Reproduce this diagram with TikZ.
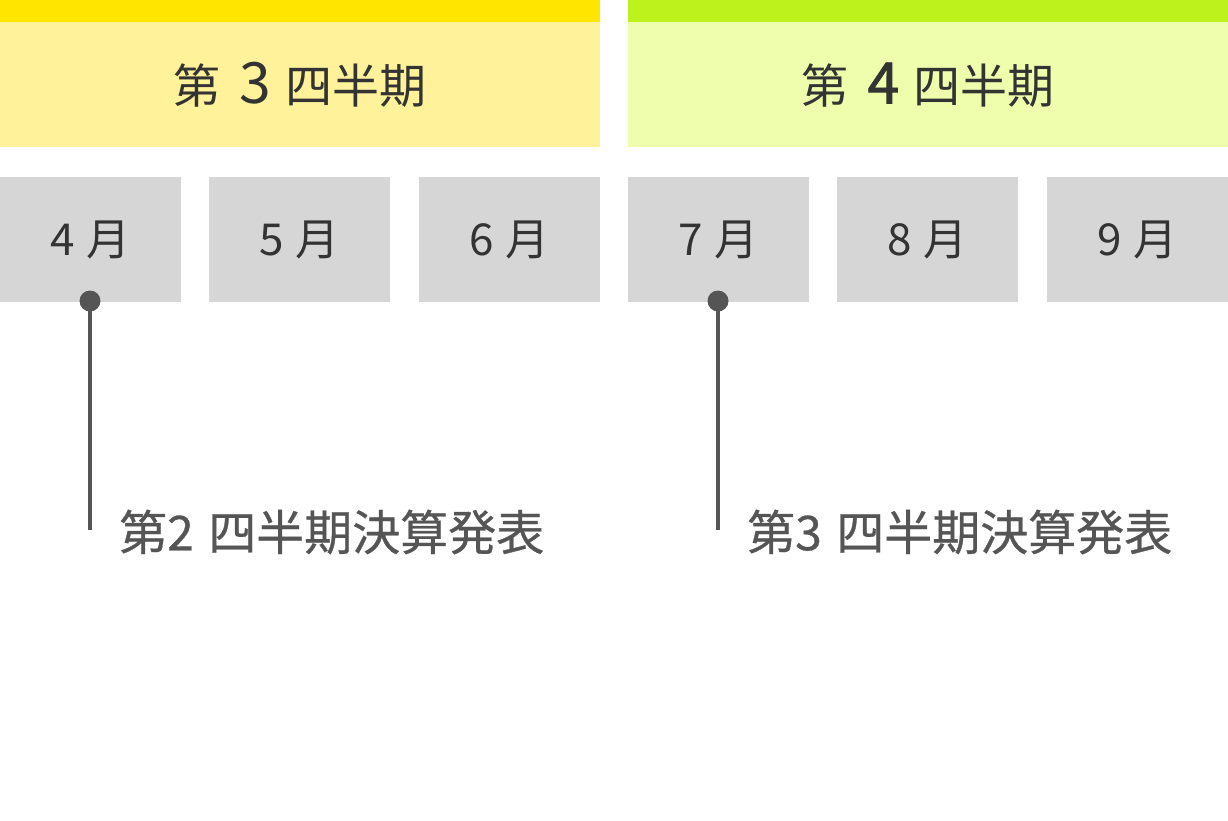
\documentclass[tikz,border=0pt]{standalone}
\usepackage{fontspec}
\setmainfont{Noto Sans CJK JP}
\newfontfamily\jpbold{Noto Sans CJK JP}[FakeBold=1.5]
\newfontfamily\jpmed{Noto Sans CJK JP}[FakeBold=0.6]
\definecolor{qyellowbar}{HTML}{FFE500}
\definecolor{qyellowlight}{HTML}{FFF29A}
\definecolor{qgreenbar}{HTML}{BEF21C}
\definecolor{qgreenlight}{HTML}{EEFEAC}
\definecolor{mbox}{HTML}{D6D6D6}
\definecolor{htext}{HTML}{333333}
\definecolor{ltext}{HTML}{555555}
\tikzset{
  hdrtext/.style={text=htext, inner sep=0pt, font=\fontsize{47}{47}\selectfont},
  monthbox/.style={fill=mbox, draw=none, minimum width=181pt, minimum height=125pt, inner sep=0pt, text=htext, font=\fontsize{44}{44}\selectfont},
  dotmark/.style={circle, fill=ltext, minimum size=21pt, inner sep=0pt},
  leader/.style={draw=ltext, line width=4pt},
  evlabel/.style={text=ltext, inner sep=0pt, anchor=west, font=\jpmed\fontsize{48}{48}\selectfont}
}
\begin{document}
\begin{tikzpicture}[x=1pt,y=-1pt]
\useasboundingbox (0,0) rectangle (1228,820);
% headers
\fill[fill=qyellowlight] (0,22) rectangle (600,147);
\fill[fill=qyellowbar] (0,0) rectangle (600,22);
\fill[fill=qgreenlight] (628,22) rectangle (1228,147);
\fill[fill=qgreenbar] (628,0) rectangle (1228,22);
\node[hdrtext] (q3) at (300,85) {第\hspace{0.4em}{\fontsize{57}{57}\selectfont 3}\hspace{0.3em}四半期};
\node[hdrtext] (q4) at (928,85) {第\hspace{0.4em}{\jpbold\fontsize{57}{57}\selectfont 4}\hspace{0.3em}四半期};
% months
\node[monthbox] (m4) at (90.5,239.5) {4\hspace{0.25em}月};
\node[monthbox] (m5) at (299.5,239.5) {5\hspace{0.25em}月};
\node[monthbox] (m6) at (509.5,239.5) {6\hspace{0.25em}月};
\node[monthbox] (m7) at (718.5,239.5) {7\hspace{0.25em}月};
\node[monthbox] (m8) at (927.5,239.5) {8\hspace{0.25em}月};
\node[monthbox] (m9) at (1137.5,239.5) {9\hspace{0.25em}月};
% markers
\coordinate (e1) at (90,530);
\coordinate (e2) at (718,530);
\draw[leader] (90,301) -- (e1);
\draw[leader] (718,301) -- (e2);
\node[dotmark] (d1) at (90,301) {};
\node[dotmark] (d2) at (718,301) {};
\node[evlabel] (l1) at (119,532) {第2\hspace{0.3em}四半期決算発表};
\node[evlabel] (l2) at (747,532) {第3\hspace{0.3em}四半期決算発表};
\end{tikzpicture}
\end{document}
